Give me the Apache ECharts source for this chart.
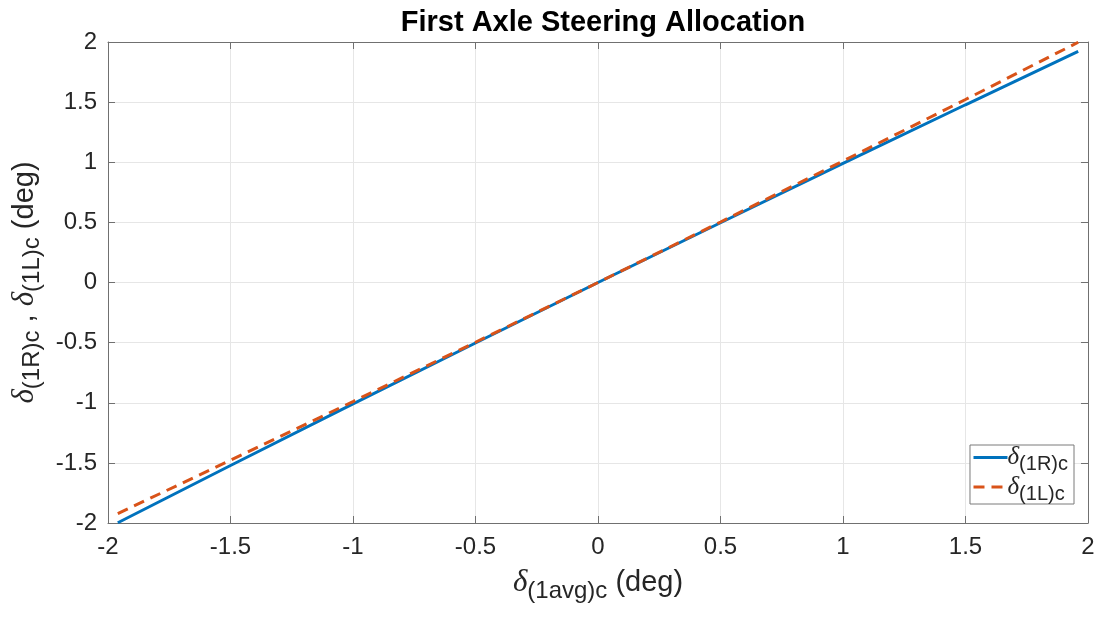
<!DOCTYPE html>
<html>
<head>
<meta charset="utf-8">
<style>
  html, body { margin: 0; padding: 0; background: #fff; }
  #chart { width: 1103px; height: 619px; }
</style>
<script src="https://cdn.jsdelivr.net/npm/echarts@6/dist/echarts.min.js"></script>
</head>
<body>
<div id="chart"></div>
<script>
// average steer command (deg)
var avgSteer = [-1.96, -1.5, -1, -0.5, 0, 0.5, 1, 1.5, 1.96]
// right wheel command (deg)
var rightSteer = [-1.998, -1.522, -1.01, -0.503, 0, 0.497, 0.99, 1.478, 1.922]
// left wheel command (deg)
var leftSteer = [-1.922, -1.478, -0.99, -0.497, 0, 0.503, 1.01, 1.522, 1.998]

var font = 'Liberation Sans, Arial, sans-serif'
var axisColor = '#707070'
var textColor = '#262626'

function pairs(xs, ys) {
  return xs.map(function(x, i) { return [x, ys[i]] })
}

// axis names: greek delta + subscript
var nameRich = {
  d: { fontFamily: 'Liberation Serif, serif', fontStyle: 'italic', fontSize: 31, color: textColor },
  s: { fontFamily: font, fontSize: 24, color: textColor, padding: [16, 0, 0, 0] },
  n: { fontFamily: font, fontSize: 29, color: textColor }
}
// legend text is a bit smaller
var legendRich = {
  d: { fontFamily: 'Liberation Serif, serif', fontStyle: 'italic', fontSize: 25, color: textColor },
  s: { fontFamily: font, fontSize: 20, color: textColor, padding: [14, 0, 0, 0] }
}

var chart = echarts.init(document.getElementById('chart'))
chart.setOption({
  animation: false,
  title: {
    text: 'First Axle Steering Allocation',
    left: 598,
    textAlign: 'center',
    top: 3,
    textStyle: { fontFamily: font, fontSize: 29, fontWeight: 'bold', color: '#000' }
  },
  grid: { left: 108, right: 15, top: 42, bottom: 96 },
  legend: {
    orient: 'vertical',
    right: 29,
    bottom: 115,
    backgroundColor: '#fff',
    borderColor: '#7a7a7a',
    borderWidth: 1,
    borderRadius: 0,
    padding: [0, 6, 0, 2],
    itemGap: 0,
    itemWidth: 34,
    itemHeight: 14,
    itemStyle: { opacity: 0 },
    lineStyle: { width: 3 },
    textStyle: { rich: legendRich, padding: [0, 0, 0, -5] },
    formatter: function(name) {
      return name === 'R' ? '{d|δ}{s|(1R)c}' : '{d|δ}{s|(1L)c}'
    },
    data: ['R', 'L']
  },
  xAxis: [{
    type: 'value',
    min: -2,
    max: 2,
    interval: 0.5,
    name: '{d|δ}{s|(1avg)c}{n| (deg)}',
    nameLocation: 'middle',
    nameGap: 40,
    nameTextStyle: { rich: nameRich },
    axisLine: { show: true, onZero: false, lineStyle: { color: axisColor } },
    axisTick: { inside: true, length: 7, lineStyle: { color: axisColor } },
    axisLabel: { fontFamily: font, fontSize: 24, color: textColor, margin: 12 },
    splitLine: { show: true, lineStyle: { color: '#e6e6e6' } }
  }, {
    type: 'value',
    position: 'top',
    min: -2,
    max: 2,
    interval: 0.5,
    axisLine: { show: true, onZero: false, lineStyle: { color: axisColor } },
    axisTick: { inside: true, length: 7, lineStyle: { color: axisColor } },
    axisLabel: { show: false },
    splitLine: { show: false }
  }],
  yAxis: [{
    type: 'value',
    min: -2,
    max: 2,
    interval: 0.5,
    name: '{d|δ}{s|(1R)c}{n| , }{d|δ}{s|(1L)c}{n| (deg)}',
    nameLocation: 'middle',
    nameGap: 56,
    nameTextStyle: { rich: nameRich },
    axisLine: { show: true, onZero: false, lineStyle: { color: axisColor } },
    axisTick: { inside: true, length: 7, lineStyle: { color: axisColor } },
    axisLabel: { fontFamily: font, fontSize: 24, color: textColor, margin: 11 },
    splitLine: { show: true, lineStyle: { color: '#e6e6e6' } }
  }, {
    type: 'value',
    position: 'right',
    min: -2,
    max: 2,
    interval: 0.5,
    axisLine: { show: true, onZero: false, lineStyle: { color: axisColor } },
    axisTick: { inside: true, length: 7, lineStyle: { color: axisColor } },
    axisLabel: { show: false },
    splitLine: { show: false }
  }],
  series: [{
    name: 'R',
    type: 'line',
    symbol: 'none',
    color: '#0072BD',
    lineStyle: { color: '#0072BD', width: 3 },
    data: pairs(avgSteer, rightSteer)
  }, {
    name: 'L',
    type: 'line',
    symbol: 'none',
    color: '#D95319',
    lineStyle: { color: '#D95319', width: 3, type: [11, 7] },
    data: pairs(avgSteer, leftSteer)
  }]
})
</script>
</body>
</html>
